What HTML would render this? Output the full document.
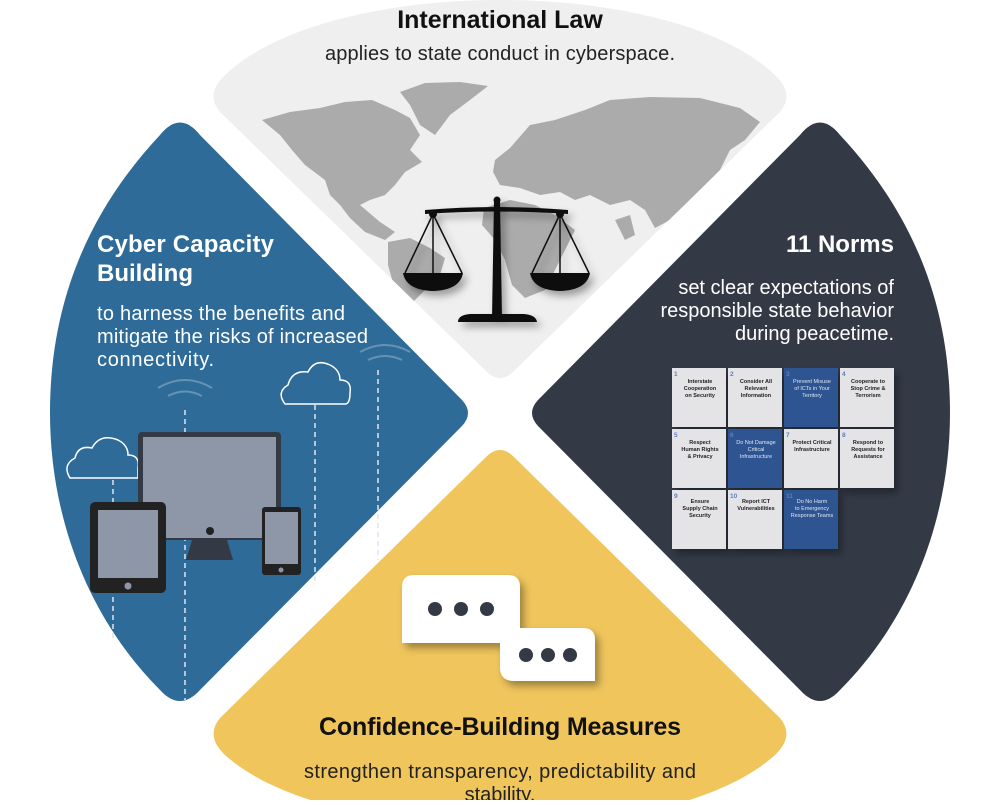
<!DOCTYPE html>
<html><head><meta charset="utf-8"><style>
html,body{margin:0;padding:0;background:#fff;}
svg text{font-family:"Liberation Sans",sans-serif;}
</style></head><body>
<svg width="1000" height="800" viewBox="0 0 1000 800" xmlns="http://www.w3.org/2000/svg">
<defs>
<filter id="sh" x="-20%" y="-20%" width="150%" height="150%"><feDropShadow dx="4" dy="5" stdDeviation="4" flood-opacity="0.35"/></filter>
<clipPath id="topc"><path d="M225,75 C330,-25 670,-25 775,75 Q795,94 780,112 L515,370 Q500,386 485,370 L220,112 Q205,94 225,75 Z"/></clipPath>
</defs>
<!-- top grey -->
<path d="M225,75 C330,-25 670,-25 775,75 Q795,94 780,112 L515,370 Q500,386 485,370 L220,112 Q205,94 225,75 Z" fill="#efefef"/>
<!-- left blue -->
<path d="M160,135 Q180,110 200,135 L462,400 Q474,413 462,426 L200,690 Q180,712 160,690 C90,620 50,520 50,413 C50,300 90,210 160,135 Z" fill="#2e6b98"/>
<!-- right dark -->
<path d="M840,135 Q820,110 800,135 L538,400 Q526,413 538,426 L800,690 Q820,712 840,690 C910,620 950,520 950,413 C950,300 910,210 840,135 Z" fill="#333a46"/>
<!-- bottom yellow -->
<path d="M225,755 C330,850 670,850 775,755 Q795,736 780,718 L515,458 Q500,442 485,458 L220,718 Q205,736 225,755 Z" fill="#efc55c"/>

<!-- world map -->
<g fill="#ababab" clip-path="url(#topc)">
<path d="M262,120 L290,112 L320,108 L345,102 L372,100 L395,110 L410,118 L420,135 L410,150 L422,162 L405,172 L395,185 L385,195 L370,200 L360,205 L380,222 L395,232 L385,240 L365,232 L350,218 L340,205 L330,195 L325,180 L305,165 L292,150 L280,135 Z"/>
<path d="M400,92 L425,83 L460,82 L488,86 L470,100 L450,115 L435,135 L420,125 L410,105 Z"/>
<path d="M388,242 L410,238 L430,248 L445,258 L440,275 L425,290 L410,305 L400,310 L395,290 L388,265 Z"/>
<path d="M495,160 L510,148 L530,125 L555,120 L585,110 L610,100 L650,97 L700,98 L740,108 L760,122 L745,140 L730,150 L720,170 L705,185 L690,200 L670,220 L655,228 L645,210 L630,200 L610,205 L590,195 L575,200 L560,192 L540,195 L520,188 L500,185 L493,172 Z"/>
<path d="M484,208 L510,200 L535,205 L555,215 L575,230 L565,250 L555,270 L545,290 L525,298 L512,285 L505,260 L495,240 L482,225 Z"/>
<path d="M665,258 L690,252 L710,260 L715,275 L700,290 L680,290 L668,278 Z"/>
<path d="M615,220 L630,215 L635,235 L625,240 Z"/>
</g>
<!-- scales -->
<g filter="url(#sh)">
<g fill="#111" stroke="#111">
<path d="M425,210 Q497,204 568,210 L568,214 Q497,209 425,214 Z" stroke="none"/>
<path d="M494,200 L500,200 L502,318 L492,318 Z" stroke="none"/>
<path d="M458,322 Q458,315 470,314 L524,314 Q536,315 537,322 Z" stroke="none"/>
<circle cx="497" cy="200" r="3.5" stroke="none"/>
<circle cx="433" cy="214" r="4" stroke="none"/><circle cx="560" cy="214" r="4" stroke="none"/>
<line x1="433" y1="214" x2="405" y2="273" stroke-width="1.5"/>
<line x1="433" y1="214" x2="462" y2="273" stroke-width="1.5"/>
<line x1="433" y1="214" x2="433" y2="273" stroke-width="1.5"/>
<line x1="560" y1="214" x2="532" y2="273" stroke-width="1.5"/>
<line x1="560" y1="214" x2="589" y2="273" stroke-width="1.5"/>
<line x1="560" y1="214" x2="560" y2="273" stroke-width="1.5"/>
<path d="M403,273 L463,273 Q460,290 433,291 Q406,290 403,273 Z" stroke="none"/>
<path d="M530,273 L590,273 Q587,290 560,291 Q533,290 530,273 Z" stroke="none"/>
</g></g>

<!-- devices -->
<g stroke="#dfe6ee" stroke-width="1.5" fill="none" stroke-dasharray="5,4">
<line x1="113" y1="480" x2="113" y2="640"/>
<line x1="185" y1="410" x2="185" y2="700"/>
<line x1="315" y1="405" x2="315" y2="585"/>
<line x1="378" y1="370" x2="378" y2="560"/>
</g>
<g stroke="#fff" stroke-width="1.5" fill="none">
<path d="M70,478 Q62,465 75,458 Q78,445 92,448 Q100,433 118,440 Q128,445 128,455 Q140,455 138,468 L138,478 Z"/>
<path d="M285,404 Q276,392 288,385 Q292,370 308,372 Q315,358 330,365 Q340,370 340,380 Q352,380 350,393 Q350,404 345,404 Z"/>
</g>
<g stroke="#7fa3c0" stroke-width="2" fill="none" opacity="0.7">
<path d="M158,388 Q185,372 212,388"/><path d="M168,396 Q185,387 202,396"/>
<path d="M360,352 Q385,338 410,352"/><path d="M368,360 Q385,352 402,360"/>
</g>
<rect x="138" y="432" width="143" height="108" rx="4" fill="#333a46"/>
<rect x="143" y="437" width="133" height="80" fill="#8e97a8"/>
<rect x="143" y="517" width="133" height="21" fill="#8e97a8"/>
<circle cx="210" cy="531" r="4" fill="#222"/>
<path d="M192,540 L227,540 L233,560 L186,560 Z" fill="#333a46"/>
<rect x="90" y="502" width="76" height="91" rx="5" fill="#222"/>
<rect x="98" y="510" width="60" height="68" fill="#8e97a8"/>
<circle cx="128" cy="586" r="3.5" fill="#8e97a8"/>
<rect x="262" y="507" width="39" height="68" rx="3" fill="#222"/>
<rect x="265" y="512" width="33" height="52" fill="#8e97a8"/>
<circle cx="281" cy="570" r="2.5" fill="#8e97a8"/>

<!-- chat bubbles -->
<g filter="url(#sh)">
<path d="M414,575 L508,575 Q520,575 520,587 L520,643 L402,643 L402,587 Q402,575 414,575 Z" fill="#fff"/>
<path d="M500,628 L583,628 Q595,628 595,640 L595,681 L514,681 Q500,681 500,667 Z" fill="#fff"/>
</g>
<g fill="#333a46"><circle cx="435" cy="609" r="7"/><circle cx="461" cy="609" r="7"/><circle cx="487" cy="609" r="7"/>
<circle cx="526" cy="655" r="7"/><circle cx="548" cy="655" r="7"/><circle cx="570" cy="655" r="7"/></g>

<!-- norms grid -->
<g filter="url(#sh)">
<rect x="672" y="368" width="54" height="59" fill="#e4e4e6"/>
<rect x="728" y="368" width="54" height="59" fill="#e4e4e6"/>
<rect x="784" y="368" width="54" height="59" fill="#2d5492"/>
<rect x="840" y="368" width="54" height="59" fill="#e4e4e6"/>
<rect x="672" y="429" width="54" height="59" fill="#e4e4e6"/>
<rect x="728" y="429" width="54" height="59" fill="#2d5492"/>
<rect x="784" y="429" width="54" height="59" fill="#e4e4e6"/>
<rect x="840" y="429" width="54" height="59" fill="#e4e4e6"/>
<rect x="672" y="490" width="54" height="59" fill="#e4e4e6"/>
<rect x="728" y="490" width="54" height="59" fill="#e4e4e6"/>
<rect x="784" y="490" width="54" height="59" fill="#2d5492"/>
</g>
<g font-size="6.5" font-weight="bold" fill="#5b7fc0">
<text x="674" y="376">1</text><text x="730" y="376">2</text><text x="786" y="376">3</text><text x="842" y="376">4</text>
<text x="674" y="437">5</text><text x="730" y="437">6</text><text x="786" y="437">7</text><text x="842" y="437">8</text>
<text x="674" y="498">9</text><text x="730" y="498">10</text><text x="786" y="498">11</text>
</g>
<g font-size="5.5" font-weight="bold" text-anchor="middle" fill="#222">
<text x="700" y="383">Interstate</text><text x="700" y="390">Cooperation</text><text x="700" y="397">on Security</text>
<text x="756" y="383">Consider All</text><text x="756" y="390">Relevant</text><text x="756" y="397">Information</text>
<text x="868" y="383">Cooperate to</text><text x="868" y="390">Stop Crime &amp;</text><text x="868" y="397">Terrorism</text>
<text x="700" y="444">Respect</text><text x="700" y="451">Human Rights</text><text x="700" y="458">&amp; Privacy</text>
<text x="812" y="444">Protect Critical</text><text x="812" y="451">Infrastructure</text>
<text x="868" y="444">Respond to</text><text x="868" y="451">Requests for</text><text x="868" y="458">Assistance</text>
<text x="700" y="503">Ensure</text><text x="700" y="510">Supply Chain</text><text x="700" y="517">Security</text>
<text x="756" y="503">Report ICT</text><text x="756" y="510">Vulnerabilities</text>
</g>
<g font-size="5.5" text-anchor="middle" fill="#dfe6f3">
<text x="812" y="383">Prevent Misuse</text><text x="812" y="390">of ICTs in Your</text><text x="812" y="397">Territory</text>
<text x="756" y="444">Do Not Damage</text><text x="756" y="451">Critical</text><text x="756" y="458">Infrastructure</text>
<text x="812" y="503">Do No Harm</text><text x="812" y="510">to Emergency</text><text x="812" y="517">Response Teams</text>
</g>

<!-- texts -->
<text x="500" y="28" text-anchor="middle" font-size="25" font-weight="bold" fill="#111">International Law</text>
<text x="500" y="60" text-anchor="middle" font-size="20" fill="#222" textLength="350">applies to state conduct in cyberspace.</text>

<text x="97" y="252" font-size="24" font-weight="bold" fill="#fff" textLength="177">Cyber Capacity</text>
<text x="97" y="281" font-size="24" font-weight="bold" fill="#fff">Building</text>
<g font-size="20" fill="#fff"><text x="97" y="320" textLength="248">to harness the benefits and</text><text x="97" y="343" textLength="271">mitigate the risks of increased</text><text x="97" y="366" textLength="117">connectivity.</text></g>

<text x="894" y="252" text-anchor="end" font-size="24" font-weight="bold" fill="#fff">11 Norms</text>
<g font-size="20" fill="#fff" text-anchor="end"><text x="894" y="294">set clear expectations of</text><text x="894" y="317">responsible state behavior</text><text x="894" y="340">during peacetime.</text></g>

<text x="500" y="735" text-anchor="middle" font-size="25" font-weight="bold" fill="#111" textLength="362">Confidence-Building Measures</text>
<text x="500" y="778" text-anchor="middle" font-size="20" fill="#222" textLength="392">strengthen transparency, predictability and</text>
<text x="500" y="801" text-anchor="middle" font-size="20" fill="#222">stability.</text>
</svg>
</body></html>
